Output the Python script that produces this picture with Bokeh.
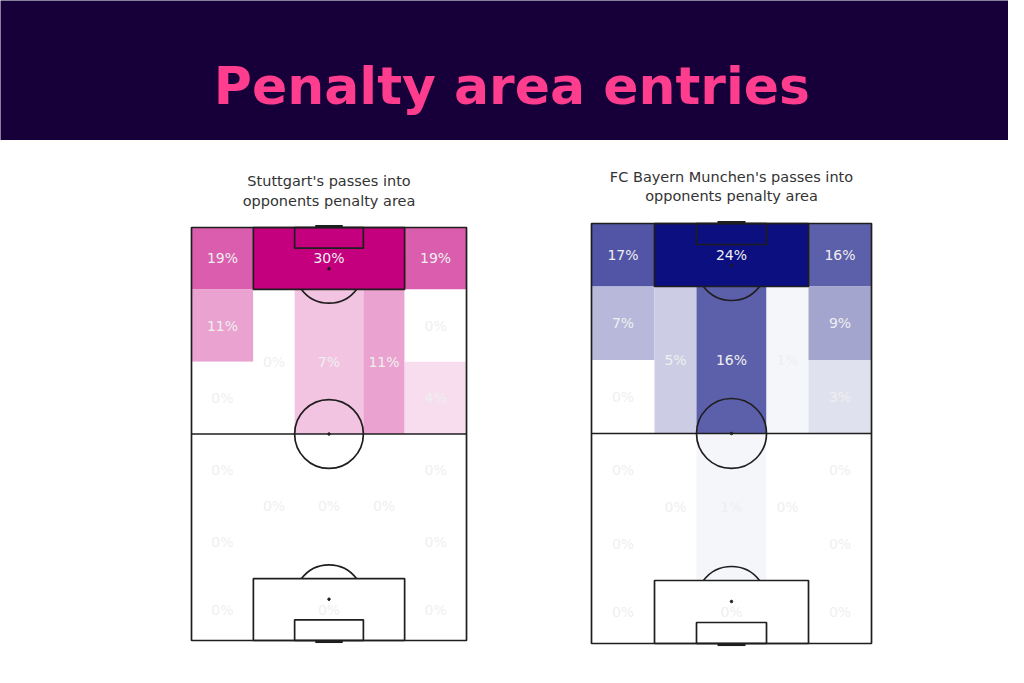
from bokeh.plotting import figure
from bokeh.layouts import column, row
from bokeh.models import ColumnDataSource, LinearColorMapper
from bokeh.core.properties import value
from bokeh.embed import file_html
from bokeh.resources import INLINE

# ---------------- data ----------------
# positional zones on a vertical StatsBomb pitch (x = width 0-80, y = length 0-120)
zone_names = ["L wing box", "Box", "R wing box",
              "L wing high", "L wing mid", "L half-space", "Centre", "R half-space", "R wing high", "R wing mid",
              "L wing own mid", "L wing own low", "L half-space own", "Centre own", "R half-space own",
              "R wing own mid", "R wing own low",
              "L wing own box", "Own box", "R wing own box"]
zone_x0 = [0, 18, 62, 0, 0, 18, 30, 50, 62, 62, 0, 0, 18, 30, 50, 62, 62, 0, 18, 62]
zone_x1 = [18, 62, 80, 18, 18, 30, 50, 62, 80, 80, 18, 18, 30, 50, 62, 80, 80, 18, 62, 80]
zone_y0 = [102, 102, 102, 81, 60, 60, 60, 60, 81, 60, 39, 18, 18, 18, 18, 39, 18, 0, 0, 0]
zone_y1 = [120, 120, 120, 102, 81, 102, 102, 102, 102, 81, 60, 39, 60, 60, 60, 60, 39, 18, 18, 18]

stuttgart_pct = [19, 30, 19, 11, 0, 0, 7, 11, 0, 4, 0, 0, 0, 0, 0, 0, 0, 0, 0, 0]
bayern_pct = [17, 24, 16, 7, 0, 5, 16, 1, 9, 3, 0, 0, 0, 1, 0, 0, 0, 0, 0, 0]

titles = ["Stuttgart's passes into\nopponents penalty area",
          "FC Bayern Munchen's passes into\nopponents penalty area"]
main_title = "Penalty area entries"

# ---------------- styles ----------------
HEADER_BG = "#170039"
TITLE_PINK = "#FF3D8E"
LINE = "#1e1e1e"


def ramp(end_hex, n=256):
    r1, g1, b1 = int(end_hex[1:3], 16), int(end_hex[3:5], 16), int(end_hex[5:7], 16)
    out = []
    for i in range(n):
        t = i / (n - 1)
        r = round(255 + (r1 - 255) * t)
        g = round(255 + (g1 - 255) * t)
        b = round(255 + (b1 - 255) * t)
        out.append("#%02x%02x%02x" % (r, g, b))
    return out


def make_pitch(title, pct, end_color, x_range, y_range, width, height):
    p = figure(width=width, height=height, x_range=x_range, y_range=y_range,
               output_backend="svg", toolbar_location=None, min_border=0,
               outline_line_color=None, x_axis_type=None, y_axis_type=None,
               background_fill_color="white", border_fill_color="white")
    p.grid.visible = False
    src = ColumnDataSource(dict(
        x0=zone_x0, x1=zone_x1, y0=zone_y0, y1=zone_y1, pct=pct,
        cx=[(a + b) / 2 for a, b in zip(zone_x0, zone_x1)],
        cy=[(a + b) / 2 for a, b in zip(zone_y0, zone_y1)],
        label=[f"{v}%" for v in pct]))
    mapper = LinearColorMapper(palette=ramp(end_color), low=0, high=max(pct))
    p.quad(left="x0", right="x1", bottom="y0", top="y1", source=src,
           fill_color={"field": "pct", "transform": mapper}, line_color=None)

    lw = 1.7
    # outline + halfway line
    p.quad(left=[0], right=[80], bottom=[0], top=[120], fill_color=None, line_color=LINE, line_width=lw)
    p.segment(x0=[0], y0=[60], x1=[80], y1=[60], line_color=LINE, line_width=lw)
    # penalty boxes and six-yard boxes
    p.quad(left=[18, 18, 30, 30], right=[62, 62, 50, 50], bottom=[0, 102, 0, 114], top=[18, 120, 6, 120],
           fill_color=None, line_color=LINE, line_width=lw)
    # centre circle
    p.circle(x=[40], y=[60], radius=10, fill_color=None, line_color=LINE, line_width=lw)
    # penalty arcs
    p.arc(x=[40], y=[108], radius=10, start_angle=216.87, end_angle=323.13, start_angle_units="deg",
          end_angle_units="deg", line_color=LINE, line_width=lw)
    p.arc(x=[40], y=[12], radius=10, start_angle=36.87, end_angle=143.13, start_angle_units="deg",
          end_angle_units="deg", line_color=LINE, line_width=lw)
    # spots
    p.scatter(x=[40, 40, 40], y=[60, 12, 108], size=2.5, color=LINE)
    # goals
    p.segment(x0=[36, 36], y0=[120.3, -0.3], x1=[44, 44], y1=[120.3, -0.3], line_color=LINE, line_width=3)

    p.text(x="cx", y="cy", text="label", source=src, text_align="center", text_baseline="middle",
           text_font=value("DejaVu Sans"), text_font_size="14px", text_color="#EFEFEF")
    p.text(x=[40], y=[130.6], text=[title], text_align="center", text_baseline="middle",
           text_font=value("DejaVu Sans"), text_font_size="14.5px", text_color="#333333",
           text_line_height=1.2)
    return p


header = figure(width=1008, height=140, x_range=(0, 1), y_range=(0, 1),
                output_backend="svg", toolbar_location=None, min_border=0,
                outline_line_color=None, x_axis_type=None, y_axis_type=None,
                background_fill_color=HEADER_BG, border_fill_color=HEADER_BG)
header.grid.visible = False
header.text(x=[0.5074], y=[0.39], text=[main_title], text_align="center", text_baseline="middle",
            text_font=value("DejaVu Sans"), text_font_style="bold", text_font_size="52px",
            text_color=TITLE_PINK)

p1 = make_pitch(titles[0], stuttgart_pct, "#C5007F", (-55.56, 91.05), (-7.845, 145.28), 504, 527)
p2 = make_pitch(titles[1], bayern_pct, "#0B0F80", (-24.857, 119.14), (-6.857, 143.71), 504, 527)

layout = column(header, row(p1, p2))
open("out.html", "w").write(file_html(layout, INLINE))
